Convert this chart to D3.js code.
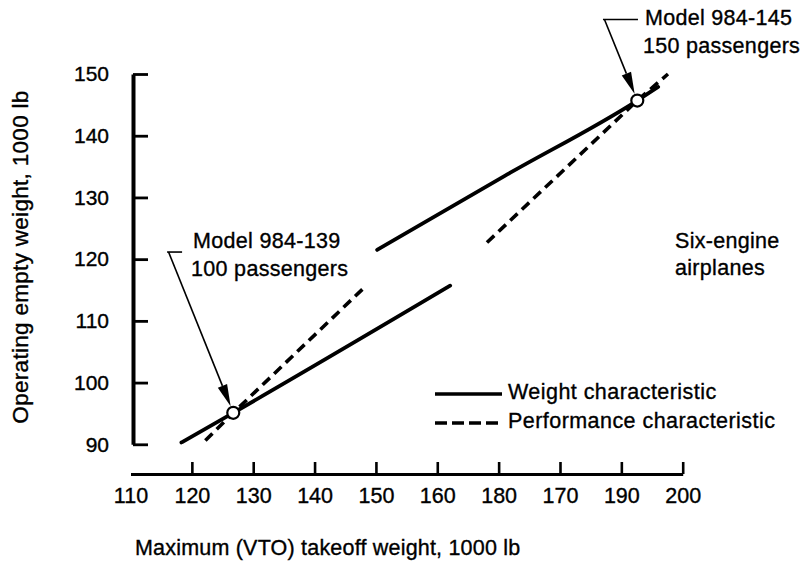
<!DOCTYPE html>
<html>
<head>
<meta charset="utf-8">
<script src="https://cdn.jsdelivr.net/npm/d3@7"></script>
<style>
  html, body { margin: 0; padding: 0; background: #fff; }
  svg { display: block; }
  text { font-family: "Liberation Sans", Arial, Helvetica, sans-serif; fill: #000; stroke: #000; stroke-width: 0.35px; }
</style>
</head>
<body>
<svg id="chart" width="804" height="564"></svg>
<script>
// ---- data ----
const xTickValues = [110, 120, 130, 140, 150, 160, 170, 180, 190, 200];
const xTickLabels = ["110", "120", "130", "140", "150", "160", "180", "170", "190", "200"];
const yTickValues = [90, 100, 110, 120, 130, 140, 150];

// Weight characteristic (solid)
const weightLow  = [[118.3, 90.3], [126.75, 95.1], [162.1, 115.7]];
const weightHigh = [[150.2, 121.5], [171.0, 133.5], [192.6, 145.7], [196.0, 147.9]];
// Performance characteristic (dashed)
const perfLow  = [[122.2, 90.6], [126.75, 95.1], [148.2, 115.5]];
const perfHigh = [[168.1, 122.7], [192.6, 145.7], [197.6, 150.0]];

const modelNames = ["Model 984-139", "Model 984-145"];
const modelPax   = ["100 passengers", "150 passengers"];
const modelX     = [126.75, 192.6];
const modelY     = [95.1, 145.7];
// label anchor (data units) for each model callout
const labelX     = [120.2, 193.85];
const labelY     = [121.8, 157.95];

const noteLines  = ["Six-engine", "airplanes"];
const legendLabels = ["Weight characteristic", "Performance characteristic"];

const xTitle = "Maximum (VTO) takeoff weight, 1000 lb";
const yTitle = "Operating empty weight, 1000 lb";

// ---- drawing ----
const svg = d3.select("#chart");
const x = d3.scaleLinear().domain([110, 200]).range([130.5, 682.7]);
const y = d3.scaleLinear().domain([90, 150]).range([444.3, 74]);

const axisY = 474;   // x-axis baseline
const axisX = 133;   // y-axis line
const fs = 21.5;

// X axis
const gx = svg.append("g")
  .attr("transform", `translate(0,${axisY})`)
  .call(d3.axisBottom(x)
    .tickValues(xTickValues)
    .tickFormat((d, i) => xTickLabels[i])
    .tickSize(-12).tickSizeOuter(0).tickPadding(14));
gx.select(".domain").attr("stroke", "#000").attr("stroke-width", 3.2);
gx.selectAll(".tick line").attr("stroke", "#000").attr("stroke-width", 2.6);
gx.selectAll(".tick").filter(d => d === 110).select("line").remove();
gx.selectAll(".tick text").attr("font-size", 21.5).attr("font-family", "Liberation Sans, Arial, sans-serif");

// Y axis
const gy = svg.append("g")
  .attr("transform", `translate(${axisX},0)`)
  .call(d3.axisLeft(y)
    .tickValues(yTickValues)
    .tickSize(-15).tickSizeOuter(0).tickPadding(24));
gy.select(".domain").attr("stroke", "#000").attr("stroke-width", 4);
gy.selectAll(".tick line").attr("stroke", "#000").attr("stroke-width", 2.8);
gy.selectAll(".tick text").attr("font-size", 21).attr("font-family", "Liberation Sans, Arial, sans-serif");

// axis titles
svg.append("text")
  .attr("x", 135).attr("y", 555)
  .attr("font-size", fs).attr("letter-spacing", 0.2)
  .text(xTitle);
svg.append("text")
  .attr("transform", `translate(28,257) rotate(-90)`)
  .attr("text-anchor", "middle")
  .attr("font-size", 22.5).attr("letter-spacing", 0.3)
  .text(yTitle);

// lines
const line = d3.line().x(d => x(d[0])).y(d => y(d[1])).curve(d3.curveMonotoneX);
const lineStraight = d3.line().x(d => x(d[0])).y(d => y(d[1]));

[perfLow, perfHigh].forEach(s => {
  svg.append("path").attr("d", lineStraight(s))
    .attr("fill", "none").attr("stroke", "#000").attr("stroke-width", 3.6)
    .attr("stroke-dasharray", "10,6");
});
[weightLow, weightHigh].forEach(s => {
  svg.append("path").attr("d", line(s))
    .attr("fill", "none").attr("stroke", "#000").attr("stroke-width", 3.8)
    .attr("stroke-linecap", "round");
});

// model callouts
const r = 6;
const leadStartDx = [-26, -42], leadEndDx = [-11, -7], leadDy = [4, -5.5];
modelNames.forEach((name, i) => {
  const cx = x(modelX[i]), cy = y(modelY[i]);
  const lx = x(labelX[i]), ly = y(labelY[i]);
  const hx0 = lx + leadStartDx[i], hy = ly + leadDy[i];
  svg.append("line").attr("x1", hx0).attr("y1", hy).attr("x2", lx + leadEndDx[i]).attr("y2", hy)
    .attr("stroke", "#000").attr("stroke-width", 1.6);
  const sx = hx0 + 1.5, sy = hy;
  const dx = cx - sx, dy = cy - sy, L = Math.hypot(dx, dy);
  const ux = dx / L, uy = dy / L;
  const tipX = cx - ux * (r + 1), tipY = cy - uy * (r + 1);
  const aLen = 22, aW = 5;
  const bx = tipX - ux * aLen, by = tipY - uy * aLen;
  svg.append("line").attr("x1", sx).attr("y1", sy).attr("x2", bx).attr("y2", by)
    .attr("stroke", "#000").attr("stroke-width", 1.6);
  svg.append("path")
    .attr("d", `M${tipX},${tipY}L${bx - uy * aW},${by + ux * aW}L${bx + uy * aW},${by - ux * aW}Z`)
    .attr("fill", "#000");
  const t = svg.append("text").attr("x", lx).attr("y", ly).attr("font-size", fs).attr("letter-spacing", 0.3);
  t.append("tspan").attr("x", lx).attr("dy", 0).text(name);
  t.append("tspan").attr("x", lx - 2).attr("dy", 28).text(modelPax[i]);
});

// circles on top
modelNames.forEach((name, i) => {
  svg.append("circle").attr("cx", x(modelX[i])).attr("cy", y(modelY[i])).attr("r", r)
    .attr("fill", "#fff").attr("stroke", "#000").attr("stroke-width", 2.2);
});

// note
const note = svg.append("text").attr("font-size", fs).attr("letter-spacing", 0.3);
noteLines.forEach((s, i) => {
  note.append("tspan").attr("x", 675).attr("y", 248 + i * 27).text(s);
});

// legend
const legX0 = 435, legX1 = 502, legY = 394;
legendLabels.forEach((lab, i) => {
  const ly = legY + i * 29;
  svg.append("line").attr("x1", legX0).attr("x2", legX1).attr("y1", ly).attr("y2", ly)
    .attr("stroke", "#000").attr("stroke-width", 3.4)
    .attr("stroke-dasharray", i === 0 ? null : "12,5");
  svg.append("text").attr("x", 508).attr("y", ly + 5).attr("font-size", fs)
    .attr("letter-spacing", 0.45).text(lab);
});
</script>
</body>
</html>
